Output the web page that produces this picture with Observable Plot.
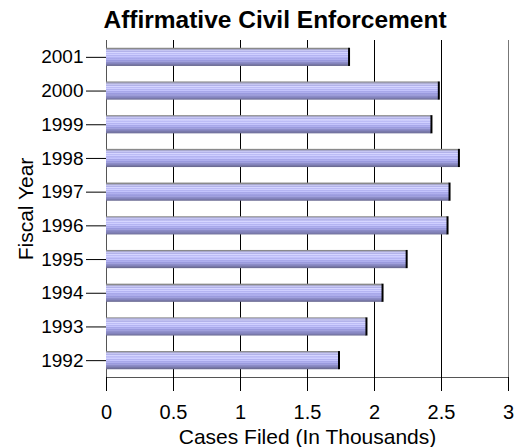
<!DOCTYPE html>
<html><head><meta charset="utf-8">
<script src="https://cdn.jsdelivr.net/npm/d3@7"></script>
<script src="https://cdn.jsdelivr.net/npm/@observablehq/plot@0.6"></script>
<style>
body{margin:0;background:#fff;font-family:"Liberation Sans",Arial,sans-serif;}
#title{height:40px;width:521px;position:relative;}
#title span{position:absolute;left:275px;top:8px;line-height:1;transform:translateX(-50%);font-weight:bold;font-size:24.5px;white-space:nowrap;color:#000;}
#chart svg{display:block;}
</style></head><body>
<div id="title"><span>Affirmative Civil Enforcement</span></div>
<div id="chart"></div>
<script>
const years = ["2001","2000","1999","1998","1997","1996","1995","1994","1993","1992"];
const cases = [1.81, 2.48, 2.425, 2.63, 2.56, 2.545, 2.24, 2.06, 1.94, 1.735];
const xTicks = [0, 0.5, 1, 1.5, 2, 2.5, 3];
const xTickLabels = ["0", "0.5", "1", "1.5", "2", "2.5", "3"];
const xLabel = "Cases Filed (In Thousands)";
const yLabel = "Fiscal Year";

const data = years.map((y, i) => ({year: y, cases: cases[i]}));

const chart = Plot.plot({
  width: 521,
  height: 407,
  marginLeft: 106,
  marginRight: 13,
  marginTop: 0,
  marginBottom: 70,
  style: {fontFamily: "'Liberation Sans', Arial, sans-serif", fontSize: "20px", color: "#000", background: "#fff"},
  x: {domain: [0, 3]},
  y: {type: "band", domain: years, paddingInner: 0.46, paddingOuter: 0.23, round: false},
  marks: [
    Plot.gridX(xTicks.slice(0, -1), {stroke: "#000", strokeOpacity: 1}),
    Plot.gridX(xTicks.slice(-1), {stroke: "#777", strokeOpacity: 1}),
    Plot.frame({anchor: "left", stroke: "#555"}),
    Plot.frame({anchor: "bottom", stroke: "#555"}),
    Plot.axisX({ticks: xTicks, tickFormat: (d) => xTickLabels[xTicks.indexOf(d)], tickSize: 14, tickPadding: 13, fontSize: 20, label: null}),
    Plot.axisX({ticks: [], tickSize: 0, label: xLabel, labelAnchor: "center", labelOffset: 66, labelArrow: "none", fontSize: 21}),
    Plot.axisY({tickSize: 20, tickPadding: 3, fontSize: 19, label: null}),
    Plot.axisY({ticks: [], tickSize: 0, label: yLabel, labelAnchor: "center", labelOffset: 88, labelArrow: "none", fontSize: 21}),
    Plot.barX(data, {x: "cases", y: "year", fill: "url(#barGrad)"}),
    Plot.tickX(data, {x: "cases", y: "year", stroke: "#000", strokeWidth: 2})
  ]
});

document.getElementById("chart").appendChild(chart);

const svg = d3.select(chart.tagName.toLowerCase() === "svg" ? chart : chart.querySelector("svg"));
const stops = [
  [0.00, "#8a8a8a"], [0.055, "#8a8a8a"],
  [0.06, "#a8a8cc"], [0.11, "#a8a8cc"],
  [0.12, "#c6c6f2"], [0.17, "#c6c6f2"],
  [0.18, "#b2b2ea"], [0.23, "#b2b2ea"],
  [0.24, "#d6d6ff"], [0.29, "#d6d6ff"],
  [0.30, "#bcbcf6"], [0.35, "#bcbcf6"],
  [0.36, "#cfcfff"], [0.41, "#cfcfff"],
  [0.42, "#b4b4f2"], [0.47, "#b4b4f2"],
  [0.48, "#c4c4fc"], [0.53, "#c4c4fc"],
  [0.54, "#a8a8ea"], [0.59, "#a8a8ea"],
  [0.60, "#b0b0ee"], [0.65, "#b0b0ee"],
  [0.66, "#9a9ade"], [0.71, "#9a9ade"],
  [0.72, "#a0a0dc"], [0.77, "#a0a0dc"],
  [0.78, "#8c8cc8"], [0.83, "#8c8cc8"],
  [0.84, "#8484bc"], [0.89, "#8484bc"],
  [0.90, "#7878a8"], [0.95, "#7878a8"],
  [0.96, "#6c6c94"], [1.00, "#6c6c94"]
];
const defs = svg.insert("defs", ":first-child");
const grad = defs.append("linearGradient").attr("id", "barGrad").attr("x1", 0).attr("y1", 0).attr("x2", 0).attr("y2", 1);
stops.forEach(([o, c]) => grad.append("stop").attr("offset", o).attr("stop-color", c));
</script>
</body></html>
